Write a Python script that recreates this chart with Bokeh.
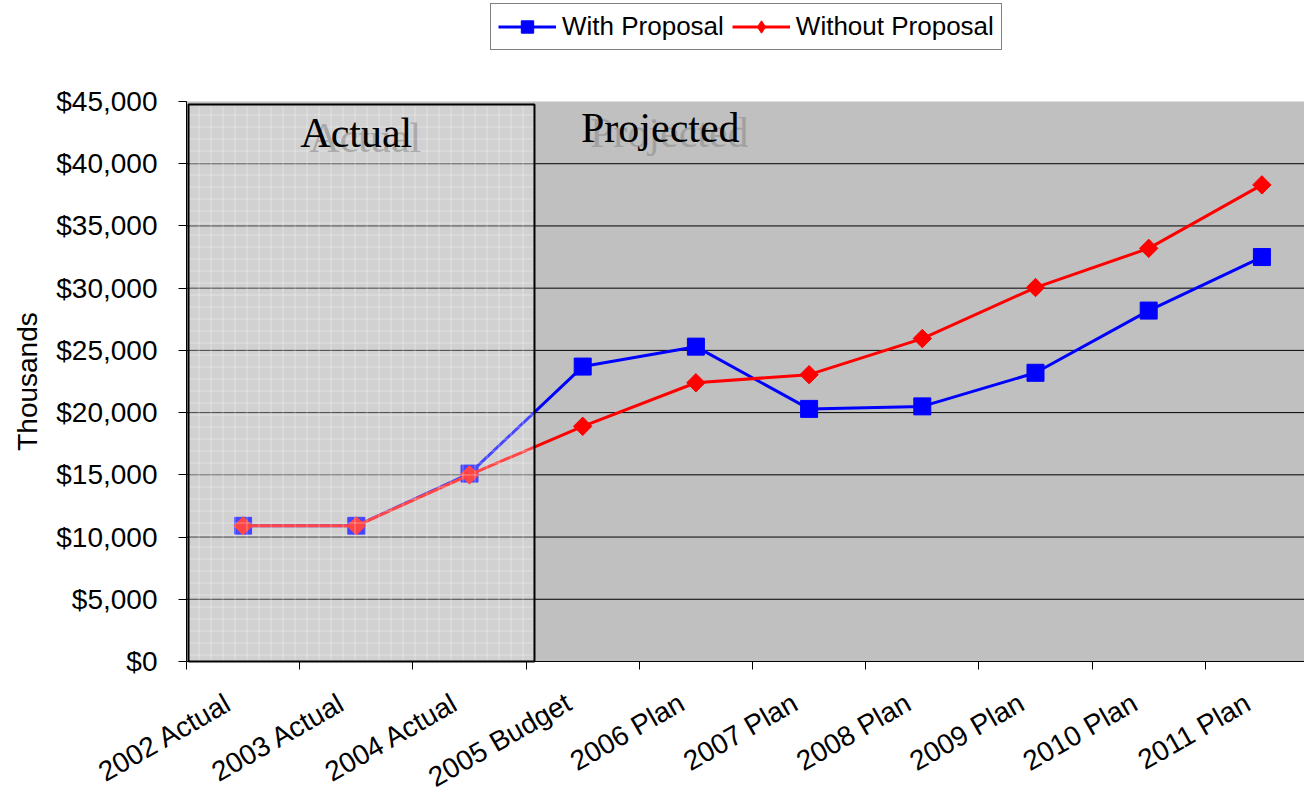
import math
from bokeh.plotting import figure
from bokeh.models import (FixedTicker, BoxAnnotation, Label, Legend, LegendItem, Range1d)
from bokeh.core.properties import value
from bokeh.embed import file_html
from bokeh.resources import INLINE

categories = ["2002 Actual", "2003 Actual", "2004 Actual", "2005 Budget", "2006 Plan",
              "2007 Plan", "2008 Plan", "2009 Plan", "2010 Plan", "2011 Plan"]
with_proposal = [10900, 10900, 15100, 23700, 25300, 20300, 20500, 23200, 28200, 32500]
without_proposal = [10900, 10900, 15000, 18900, 22400, 23050, 25950, 30050, 33200, 38300]
y_ticks = [0, 5000, 10000, 15000, 20000, 25000, 30000, 35000, 40000, 45000]
y_tick_labels = ["$" + format(v, ",") for v in y_ticks]
grid_ticks = [5000, 10000, 15000, 20000, 25000, 30000, 35000, 40000]
y_title = "Thousands"

x_pos = [i + 1 for i in range(len(categories))]
boundaries = [i + 0.5 for i in range(len(categories))]

SANS = "Liberation Sans"
SERIF = "Liberation Serif"

# layout constants (pixels); the frame covers the whole canvas
W, H = 1304, 798
PLOT_LEFT_PX = 186
PLOT_TOP_PX, PLOT_BOTTOM_PX = 101, 661
CAT_PX = 113.2
Y_MAX = y_ticks[-1]
PX_PER_UNIT = (PLOT_BOTTOM_PX - PLOT_TOP_PX) / Y_MAX
X_PLOT0 = 0.5
X_START = X_PLOT0 - PLOT_LEFT_PX / CAT_PX
X_END = X_PLOT0 + (W - PLOT_LEFT_PX) / CAT_PX
Y_TOP = Y_MAX + PLOT_TOP_PX / PX_PER_UNIT
Y_BOTTOM = -(H - PLOT_BOTTOM_PX) / PX_PER_UNIT

p = figure(width=W, height=H, output_backend="svg", toolbar_location=None,
           x_range=Range1d(X_START, X_END), y_range=Range1d(Y_BOTTOM, Y_TOP),
           min_border_left=0, min_border_right=0, min_border_top=0, min_border_bottom=0)
p.background_fill_color = "white"
p.border_fill_color = "white"
p.outline_line_color = None
p.xgrid.visible = False
p.ygrid.visible = False

# gray plot area
plot_area = BoxAnnotation(left=X_PLOT0, right=X_END, bottom=0, top=Y_MAX, level="image",
                          fill_color="#c0c0c0", fill_alpha=1, line_color=None)
p.add_layout(plot_area)

# x axis at y = 0, tick marks between categories
p.xaxis.fixed_location = 0
p.xaxis.bounds = (X_PLOT0, X_END)
p.xaxis.ticker = FixedTicker(ticks=[], minor_ticks=boundaries)
p.xaxis.major_tick_out = 0
p.xaxis.major_tick_in = 0
p.xaxis.minor_tick_out = 8
p.xaxis.minor_tick_in = 0
p.xaxis.minor_tick_line_color = "black"
p.xaxis.axis_line_color = "black"
p.xaxis.major_label_standoff = 0
p.xaxis.major_label_text_font_size = "1px"

# y axis at x = X_PLOT0
p.yaxis.fixed_location = X_PLOT0
p.yaxis.bounds = (0, Y_MAX)
p.yaxis.ticker = FixedTicker(ticks=[], minor_ticks=y_ticks)
p.yaxis.major_tick_out = 0
p.yaxis.major_tick_in = 0
p.yaxis.minor_tick_out = 8
p.yaxis.minor_tick_in = 0
p.yaxis.minor_tick_line_color = "black"
p.yaxis.axis_line_color = "black"
p.yaxis.major_label_standoff = 0
p.yaxis.major_label_text_font_size = "1px"

# horizontal grid lines
p.segment(x0=[X_PLOT0] * len(grid_ticks), x1=[X_END] * len(grid_ticks),
          y0=grid_ticks, y1=grid_ticks, line_color="black", line_width=1)

# y tick labels and title
p.text(x=[X_PLOT0] * len(y_ticks), y=y_ticks, text=y_tick_labels, x_offset=-29,
       text_align="right", text_baseline="middle",
       text_font=value(SANS), text_font_size="28px", text_color="black")
p.text(x=[X_PLOT0], y=[Y_MAX / 2], text=[y_title], x_offset=-159, angle=math.pi / 2,
       text_align="center", text_baseline="middle",
       text_font=value(SANS), text_font_size="28px", text_color="black")

# category labels, rotated, under the axis
p.text(x=x_pos, y=[0] * len(x_pos), text=categories, angle=0.52,
       x_offset=-14, y_offset=39, text_align="right", text_baseline="middle",
       text_font=value(SANS), text_font_size="28px", text_color="black")

# series
lb = p.line(x_pos, with_proposal, line_color="#0000ff", line_width=3)
sb = p.scatter(x_pos, with_proposal, marker="square", size=17, fill_color="#0000ff",
               line_color="#0000ff")
lr = p.line(x_pos, without_proposal, line_color="#ff0000", line_width=3)
sr_leg = p.scatter(x_pos, without_proposal, marker="diamond", size=17,
                   fill_color="#ff0000", line_color="#ff0000")
sr = p.scatter(x_pos, without_proposal, marker="square", angle=0.7854, size=13,
               fill_color="#ff0000", line_color="#ff0000")

# "Actual" shaded box
box_left, box_right, box_top = 0.518, 3.574, 44760
box = BoxAnnotation(left=box_left, right=box_right, bottom=0, top=box_top,
                    fill_color="white", fill_alpha=0.27,
                    hatch_pattern="+", hatch_color="white", hatch_alpha=0.35,
                    hatch_scale=12, hatch_weight=1,
                    line_color="black", line_width=2, line_alpha=1)
p.add_layout(box)

def add_title(text, x, y, align):
    shadow = Label(x=x, y=y, text=text, text_align=align, text_baseline="alphabetic",
                   x_offset=9, y_offset=-5, text_font=SERIF, text_font_size="42px",
                   text_color="#8c8c8c", text_alpha=0.6)
    main = Label(x=x, y=y, text=text, text_align=align, text_baseline="alphabetic",
                 text_font=SERIF, text_font_size="42px", text_color="black")
    p.add_layout(shadow)
    p.add_layout(main)

add_title("Actual", 2.0, 42430, "center")
add_title("Projected", 3.985, 42900, "left")

LEGEND_LEFT_PX, LEGEND_BOTTOM_PX = 490, 50
legend = Legend(items=[LegendItem(label="With Proposal", renderers=[lb, sb]),
                       LegendItem(label="Without Proposal", renderers=[lr, sr_leg])],
                location=(LEGEND_LEFT_PX, H - LEGEND_BOTTOM_PX), orientation="horizontal",
                label_text_font=SANS, label_text_font_size="26px", label_text_color="black",
                glyph_width=58, glyph_height=31, label_standoff=6, spacing=8,
                padding=7, margin=0, border_line_color="black", border_line_width=1,
                background_fill_color="white", background_fill_alpha=1)
p.add_layout(legend, "center")

open("out.html", "w").write(file_html(p, INLINE))
